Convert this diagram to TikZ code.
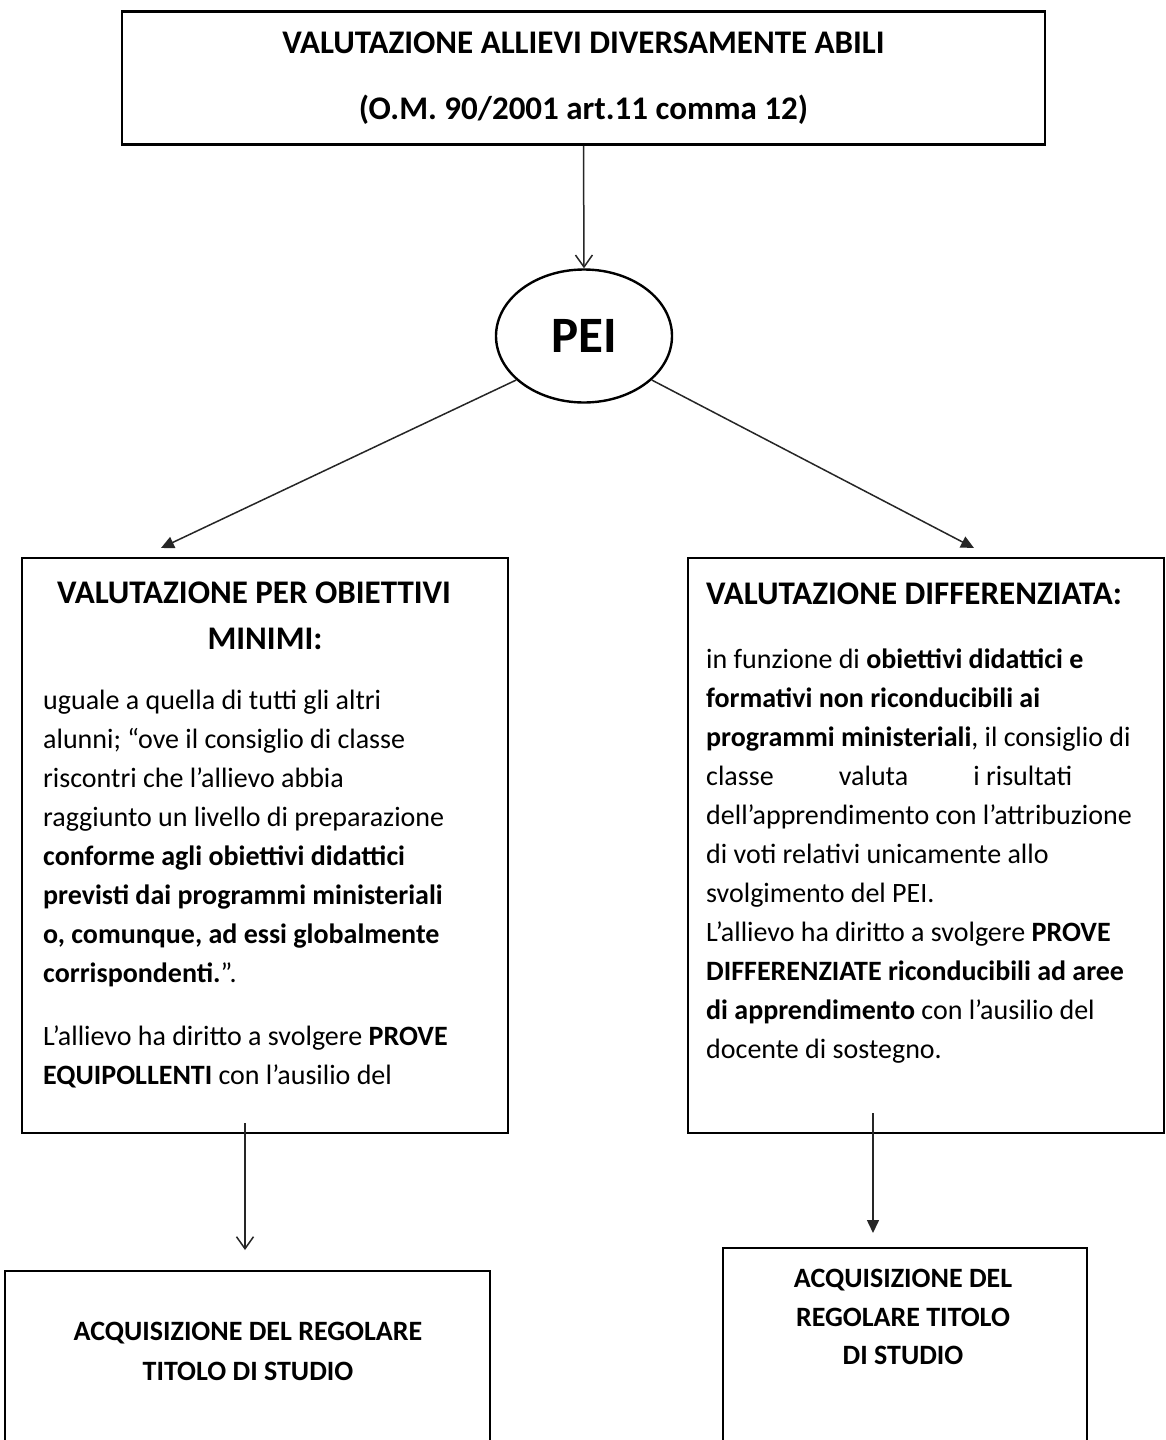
\documentclass[tikz,border=0pt]{standalone}
\usepackage{fontspec}
\setmainfont{Carlito}
\usetikzlibrary{arrows.meta, positioning, shapes.geometric}
\tikzset{
  framebox/.style={rectangle, draw=black, line width=2.8pt, inner sep=0pt},
  peinode/.style={ellipse, draw=black, line width=2.4pt, inner sep=0pt, font=\fontsize{51}{51}\selectfont\bfseries},
  headtext/.style={font=\fontsize{33}{66}\selectfont\bfseries, align=center},
  titletext/.style={font=\fontsize{33}{46}\selectfont\bfseries, align=center, inner sep=0pt},
  bodytext/.style={font=\fontsize{28}{39}\selectfont, align=left, inner sep=0pt, anchor=west},
  endtext/.style={font=\fontsize{28}{#1}\selectfont\bfseries, align=center, inner sep=0pt},
  flowline/.style={draw=black!85, line width=1.5pt},
  openhead/.style={flowline, -{Straight Barb[length=12pt, width=17pt]}},
  fullhead/.style={flowline, -{Triangle[length=13pt, width=12pt]}},
}

\begin{document}
\begin{tikzpicture}[x=1pt, y=-1pt]
\clip (0,0) rectangle (1166,1440);
\fill[white] (0,0) rectangle (1166,1440);

% head and PEI
\node[framebox, headtext, minimum width=923pt, minimum height=133pt] (head) at (583.5,78)
  {VALUTAZIONE ALLIEVI DIVERSAMENTE ABILI\\(O.M. 90/2001 art.11 comma 12)};
\node[peinode, minimum width=176pt, minimum height=133pt] (pei) at (584,336) {PEI};

% the two middle boxes
\node[framebox, minimum width=486pt, minimum height=575pt] (leftbox) at (265,845.5) {};
\node[framebox, minimum width=476pt, minimum height=575pt] (rightbox) at (926,845.5) {};

\node[titletext] (lefttitle) at (265,616) {VALUTAZIONE PER OBIETTIVI\hspace*{22pt}\\MINIMI:};
\node[bodytext] (leftbody) at (43,889) {uguale a quella di tutti gli altri\\
  alunni; “ove il consiglio di classe\\
  riscontri che l’allievo abbia\\
  raggiunto un livello di preparazione\\
  \textbf{conforme agli obiettivi didattici}\\
  \textbf{previsti dai programmi ministeriali}\\
  \textbf{o, comunque, ad essi globalmente}\\
  \textbf{corrispondenti.}”.\\[24pt]
  L’allievo ha diritto a svolgere \textbf{PROVE}\\
  \textbf{EQUIPOLLENTI} con l’ausilio del};

\node[titletext, anchor=west] (righttitle) at (706,594) {VALUTAZIONE DIFFERENZIATA:};
\node[bodytext] (rightbody) at (706,856) {in funzione di \textbf{obiettivi didattici e}\\
  \textbf{formativi non riconducibili ai}\\
  \textbf{programmi ministeriali}, il consiglio di\\
  \makebox[366pt][l]{classe\hfill valuta\hfill i risultati}\\
  dell’apprendimento con l’attribuzione\\
  di voti relativi unicamente allo\\
  svolgimento del PEI.\\
  L’allievo ha diritto a svolgere \textbf{PROVE}\\
  \textbf{DIFFERENZIATE riconducibili ad aree}\\
  \textbf{di apprendimento} con l’ausilio del\\
  docente di sostegno.};

% bottom boxes
\node[framebox, minimum width=485pt, minimum height=200pt] (leftend) at (247.5,1371) {};
\node[framebox, minimum width=364pt, minimum height=220pt] (rightend) at (905,1358) {};
\node[endtext=40] (leftendtext) at (248,1351) {ACQUISIZIONE DEL REGOLARE\\TITOLO DI STUDIO};
\node[endtext=38.5] (rightendtext) at (903,1317) {ACQUISIZIONE DEL\\REGOLARE TITOLO\\DI STUDIO};

% free ends
\coordinate (lefttip) at (161,548);
\coordinate (righttip) at (974,548);
\coordinate (leftfoot) at (245,1123);
\coordinate (leftdrop) at (245,1250);
\coordinate (rightfoot) at (873,1113);
\coordinate (rightdrop) at (873,1233);

% connectors
\draw[openhead] (head.south) -- (pei.north);
\draw[fullhead] (pei.213) -- (lefttip);
\draw[fullhead] (pei.327) -- (righttip);
\draw[openhead] (leftfoot) -- (leftdrop);
\draw[fullhead] (rightfoot) -- (rightdrop);
\end{tikzpicture}
\end{document}
